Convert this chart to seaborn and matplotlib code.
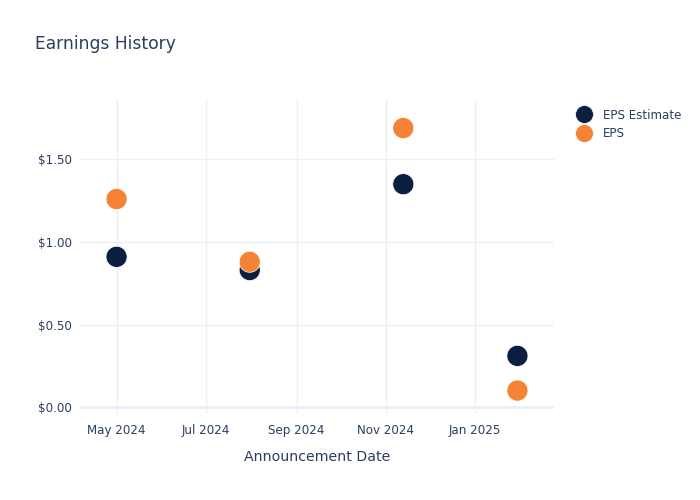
import pandas as pd
import matplotlib.pyplot as plt
import matplotlib.dates as mdates
from matplotlib.ticker import FuncFormatter
import seaborn as sns

# values
dates = ['2024-05-01', '2024-07-31', '2024-11-13', '2025-01-30']
eps_estimate = [0.91, 0.83, 1.35, 0.31]
eps_actual = [1.26, 0.88, 1.69, 0.10]
series_names = ['EPS Estimate', 'EPS']

df = pd.DataFrame({
    'date': pd.to_datetime(dates * 2),
    'value': eps_estimate + eps_actual,
    'series': [series_names[0]] * 4 + [series_names[1]] * 4,
})

text_color = '#2a3f5f'
grid_color = '#ebf0f8'
palette = {'EPS Estimate': '#0b1f41', 'EPS': '#f58235'}

sns.set_style('white')
plt.rcParams['font.family'] = ['DejaVu Sans']

fig = plt.figure(figsize=(7, 5), dpi=100)
ax = fig.add_axes([80 / 700, 1 - 413 / 500, 474 / 700, 313 / 500])

sns.scatterplot(data=df, x='date', y='value', hue='series', palette=palette,
                s=230, linewidth=0.5, edgecolor='white', ax=ax, zorder=3)

ax.set_xlim(pd.Timestamp('2024-04-06'), pd.Timestamp('2025-02-24'))
ax.set_ylim(-0.036, 1.86)

ax.set_yticks([0, 0.5, 1.0, 1.5])
ax.yaxis.set_major_formatter(FuncFormatter(lambda v, p: f'${v:.2f}'))
ax.xaxis.set_major_locator(mdates.MonthLocator(bymonth=[1, 3, 5, 7, 9, 11]))
ax.xaxis.set_major_formatter(mdates.DateFormatter('%b %Y'))

ax.grid(True, color=grid_color, linewidth=1, zorder=0)
ax.axhline(0, color=grid_color, linewidth=2, zorder=1)
for s in ax.spines.values():
    s.set_visible(False)
ax.tick_params(axis='both', length=0, labelsize=8.6, labelcolor=text_color)
ax.tick_params(axis='x', pad=8)
ax.tick_params(axis='y', pad=6)

ax.set_xlabel('Announcement Date', fontsize=10.2, color=text_color, labelpad=9)
ax.set_ylabel('')

fig.text(35 / 700, 1 - 44 / 500, 'Earnings History', fontsize=12.3,
         color=text_color, va='center', ha='left')

leg = ax.legend(loc='upper left', bbox_to_anchor=(1.027, 0.988), frameon=False,
                fontsize=8.6, handletextpad=0.6, labelspacing=0.45,
                borderaxespad=0.0, markerscale=0.85)
for t in leg.get_texts():
    t.set_color(text_color)

fig.savefig('out.png', dpi=100)
